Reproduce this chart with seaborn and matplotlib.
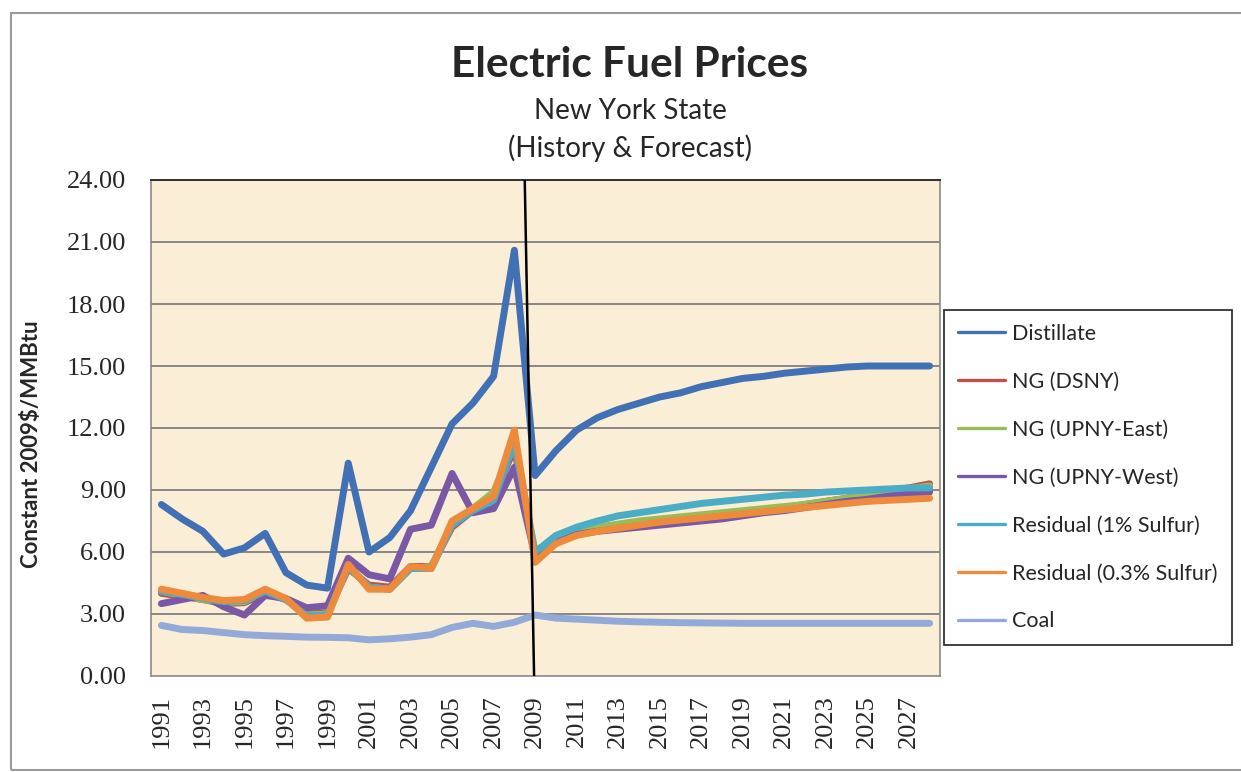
import numpy as np
import pandas as pd
import matplotlib
matplotlib.use("Agg")
import matplotlib.pyplot as plt
import matplotlib.patches as mpatches
from matplotlib.lines import Line2D
import seaborn as sns

years = list(range(1991, 2029))

distillate = [8.3, 7.6, 7.0, 5.9, 6.2, 6.9, 5.0, 4.4, 4.25, 10.3, 6.0, 6.7, 8.0, 10.1, 12.2, 13.2, 14.5, 20.6,
              9.7, 10.9, 11.9, 12.5, 12.9, 13.2, 13.5, 13.7, 14.0, 14.2, 14.4, 14.5, 14.65, 14.75, 14.85, 14.95, 15.0, 15.0, 15.0, 15.0]
ng_dsny = [4.0, 3.85, 3.7, 3.5, 3.55, 4.0, 3.7, 3.0, 3.05, 5.2, 4.4, 4.3, 5.3, 5.3, 7.2, 8.0, 8.7, 11.0,
           5.8, 6.5, 6.9, 7.1, 7.25, 7.4, 7.5, 7.6, 7.7, 7.8, 7.9, 8.0, 8.15, 8.3, 8.45, 8.6, 8.8, 8.95, 9.1, 9.3]
ng_upny_east = [4.1, 3.9, 3.7, 3.55, 3.6, 4.1, 3.7, 2.95, 3.0, 5.3, 4.3, 4.2, 5.2, 5.3, 7.3, 8.1, 8.9, 11.3,
                5.9, 6.6, 7.0, 7.2, 7.35, 7.5, 7.6, 7.7, 7.8, 7.9, 8.0, 8.1, 8.2, 8.3, 8.45, 8.6, 8.75, 8.9, 9.05, 9.2]
ng_upny_west = [3.5, 3.7, 3.9, 3.35, 2.95, 3.9, 3.75, 3.3, 3.4, 5.7, 4.9, 4.7, 7.1, 7.3, 9.8, 7.9, 8.1, 10.1,
                5.8, 6.5, 6.85, 7.0, 7.1, 7.2, 7.3, 7.4, 7.5, 7.6, 7.75, 7.9, 8.0, 8.15, 8.3, 8.45, 8.55, 8.7, 8.8, 8.9]
resid_1 = [4.1, 3.95, 3.75, 3.6, 3.65, 4.1, 3.7, 2.9, 2.95, 5.3, 4.3, 4.2, 5.2, 5.2, 7.3, 8.0, 8.5, 11.3,
           6.0, 6.8, 7.2, 7.5, 7.75, 7.9, 8.05, 8.2, 8.35, 8.45, 8.55, 8.65, 8.75, 8.8, 8.9, 8.95, 9.0, 9.05, 9.1, 9.1]
resid_03 = [4.2, 4.0, 3.8, 3.65, 3.7, 4.2, 3.75, 2.8, 2.85, 5.4, 4.2, 4.2, 5.3, 5.2, 7.5, 8.1, 8.7, 11.9,
            5.5, 6.4, 6.8, 7.0, 7.15, 7.3, 7.45, 7.55, 7.65, 7.75, 7.85, 7.95, 8.05, 8.15, 8.25, 8.35, 8.45, 8.5, 8.55, 8.6]
coal = [2.45, 2.25, 2.2, 2.1, 2.0, 1.95, 1.92, 1.88, 1.87, 1.85, 1.75, 1.8, 1.88, 2.0, 2.35, 2.55, 2.4, 2.6,
        2.95, 2.8, 2.75, 2.7, 2.65, 2.62, 2.6, 2.58, 2.57, 2.56, 2.55, 2.55, 2.55, 2.55, 2.55, 2.55, 2.55, 2.55, 2.55, 2.55]

series_names = ["Distillate", "NG (DSNY)", "NG (UPNY-East)", "NG (UPNY-West)",
                "Residual (1% Sulfur)", "Residual (0.3% Sulfur)", "Coal"]
series_vals = [distillate, ng_dsny, ng_upny_east, ng_upny_west, resid_1, resid_03, coal]
colors = ["#4170B5", "#C0504D", "#9BBB59", "#7A58A6", "#4BACC6", "#EE8A3C", "#93AAD8"]
y_ticks = [0, 3, 6, 9, 12, 15, 18, 21, 24]

rows = []
for name, vals in zip(series_names, series_vals):
    for i, (yr, v) in enumerate(zip(years, vals)):
        rows.append({"idx": i, "Year": yr, "Series": name, "Value": v})
df = pd.DataFrame(rows)

sns.set_style("white")
plt.rcParams['font.family'] = ['Lato', 'DejaVu Sans']

W, H = 1241, 772
fig = plt.figure(figsize=(W / 100, H / 100), dpi=100)
ax = fig.add_axes([151 / W, 1 - 676 / H, 789 / W, 496 / H])
ax.set_facecolor("#FBEED6")

# outer chart border
fig.patches.append(mpatches.Rectangle((11 / W, 1 - 770 / H), 1.0, (770 - 13) / H,
                                      transform=fig.transFigure, fill=False,
                                      edgecolor="#9a9a9a", linewidth=1.5, zorder=0))

for yv in y_ticks[1:]:
    ax.axhline(yv, color="#7f7f7f", linewidth=1.3, zorder=1)

sns.lineplot(data=df, x="idx", y="Value", hue="Series", hue_order=series_names,
             palette=dict(zip(series_names, colors)), linewidth=5.0, ax=ax,
             legend=False, solid_joinstyle="round", solid_capstyle="round", zorder=3)

# history / forecast divider
ax.plot([17.5, 17.95], [24, 0], color="black", linewidth=1.8, zorder=5)

ax.set_xlim(-0.5, len(years) - 0.5)
ax.set_ylim(0, 24)
ax.set_yticks(y_ticks)
ax.set_yticklabels([f"{v:.2f}" for v in y_ticks], fontfamily="Liberation Serif", fontsize=19)
ax.set_xticks(np.arange(len(years) + 1) - 0.5)
ax.set_xticklabels([])
ax.set_xticks(np.arange(0, len(years), 2), minor=True)
ax.set_xticklabels([str(years[i]) for i in range(0, len(years), 2)], minor=True,
                   rotation=90, fontfamily="Liberation Serif", fontsize=19)
ax.tick_params(axis="x", which="major", direction="out", length=6, color="#7f7f7f", width=1)
ax.tick_params(axis="x", which="minor", length=0, pad=14)
ax.tick_params(axis="y", direction="out", length=7, color="#7f7f7f", width=1, pad=11)
ax.set_xlabel("")
ax.set_ylabel("")
for s in ["left", "right", "bottom"]:
    ax.spines[s].set_color("#8a8a8a")
    ax.spines[s].set_linewidth(1.2)
ax.spines["top"].set_color("#303030")
ax.spines["top"].set_linewidth(1.4)

fig.text(32 / W, 1 - 444 / H, "Constant 2009$/MMBtu", rotation=90, ha="center", va="center",
         fontsize=16, fontweight="bold")

fig.text(630 / W, 1 - 65 / H, "Electric Fuel Prices", ha="center", va="center",
         fontsize=30.5, fontweight="bold")
fig.text(630 / W, 1 - 111 / H, "New York State", ha="center", va="center", fontsize=20)
fig.text(630 / W, 1 - 148 / H, "(History & Forecast)", ha="center", va="center", fontsize=20)

handles = [Line2D([0], [0], color=c, linewidth=2.4) for c in colors]
leg = fig.legend(handles, series_names, loc="upper left",
                 bbox_to_anchor=(944 / W, 1 - 310 / H), bbox_transform=fig.transFigure,
                 frameon=True, fancybox=False, fontsize=15.5, handlelength=2.2,
                 handletextpad=0.35, labelspacing=1.3, borderpad=0.63, borderaxespad=0)
leg.get_frame().set_edgecolor("black")
leg.get_frame().set_linewidth(1.3)

fig.savefig("out.png", dpi=100)
